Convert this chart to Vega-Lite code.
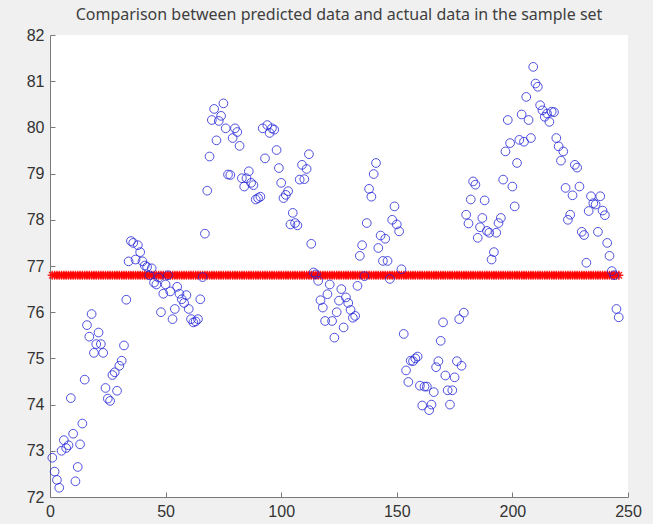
{
"$schema":"https://vega.github.io/schema/vega-lite/v6.json",
"width":578,"height":462,
"autosize":"none",
"padding":{"left":50,"top":35,"right":25,"bottom":27},
"background":"#f0f0f0",
"view":{"fill":"white","stroke":null},
"title":{"text":"Comparison between predicted data and actual data in the sample set","anchor":"middle","offset":4,"fontSize":16,"font":"Noto Sans","fontWeight":"normal","color":"#404040"},
"datasets":{"rows":[
{"i":1,"actual":72.85,"predicted":76.8},{"i":2,"actual":72.55,"predicted":76.8},{"i":3,"actual":72.37,"predicted":76.8},{"i":4,"actual":72.2,"predicted":76.8},{"i":5,"actual":73.0,"predicted":76.8},{"i":6,"actual":73.23,"predicted":76.8},{"i":7,"actual":73.06,"predicted":76.8},{"i":8,"actual":73.12,"predicted":76.8},{"i":9,"actual":74.14,"predicted":76.8},{"i":10,"actual":73.37,"predicted":76.8},
{"i":11,"actual":72.34,"predicted":76.8},{"i":12,"actual":72.65,"predicted":76.8},{"i":13,"actual":73.14,"predicted":76.8},{"i":14,"actual":73.59,"predicted":76.8},{"i":15,"actual":74.54,"predicted":76.8},{"i":16,"actual":75.72,"predicted":76.8},{"i":17,"actual":75.47,"predicted":76.8},{"i":18,"actual":75.96,"predicted":76.8},{"i":19,"actual":75.12,"predicted":76.8},{"i":20,"actual":75.31,"predicted":76.8},
{"i":21,"actual":75.56,"predicted":76.8},{"i":22,"actual":75.31,"predicted":76.8},{"i":23,"actual":75.12,"predicted":76.8},{"i":24,"actual":74.36,"predicted":76.8},{"i":25,"actual":74.13,"predicted":76.8},{"i":26,"actual":74.08,"predicted":76.8},{"i":27,"actual":74.64,"predicted":76.8},{"i":28,"actual":74.7,"predicted":76.8},{"i":29,"actual":74.3,"predicted":76.8},{"i":30,"actual":74.84,"predicted":76.8},
{"i":31,"actual":74.95,"predicted":76.8},{"i":32,"actual":75.28,"predicted":76.8},{"i":33,"actual":76.27,"predicted":76.8},{"i":34,"actual":77.1,"predicted":76.8},{"i":35,"actual":77.54,"predicted":76.8},{"i":36,"actual":77.5,"predicted":76.8},{"i":37,"actual":77.14,"predicted":76.8},{"i":38,"actual":77.45,"predicted":76.8},{"i":39,"actual":77.3,"predicted":76.8},{"i":40,"actual":77.1,"predicted":76.8},
{"i":41,"actual":77.01,"predicted":76.8},{"i":42,"actual":76.98,"predicted":76.8},{"i":43,"actual":76.8,"predicted":76.8},{"i":44,"actual":76.95,"predicted":76.8},{"i":45,"actual":76.64,"predicted":76.8},{"i":46,"actual":76.6,"predicted":76.8},{"i":47,"actual":76.75,"predicted":76.8},{"i":48,"actual":76.0,"predicted":76.8},{"i":49,"actual":76.4,"predicted":76.8},{"i":50,"actual":76.6,"predicted":76.8},
{"i":51,"actual":76.8,"predicted":76.8},{"i":52,"actual":76.45,"predicted":76.8},{"i":53,"actual":75.85,"predicted":76.8},{"i":54,"actual":76.07,"predicted":76.8},{"i":55,"actual":76.55,"predicted":76.8},{"i":56,"actual":76.4,"predicted":76.8},{"i":57,"actual":76.28,"predicted":76.8},{"i":58,"actual":76.2,"predicted":76.8},{"i":59,"actual":76.37,"predicted":76.8},{"i":60,"actual":76.07,"predicted":76.8},
{"i":61,"actual":75.85,"predicted":76.8},{"i":62,"actual":75.78,"predicted":76.8},{"i":63,"actual":75.8,"predicted":76.8},{"i":64,"actual":75.85,"predicted":76.8},{"i":65,"actual":76.28,"predicted":76.8},{"i":66,"actual":76.76,"predicted":76.8},{"i":67,"actual":77.7,"predicted":76.8},{"i":68,"actual":78.63,"predicted":76.8},{"i":69,"actual":79.37,"predicted":76.8},{"i":70,"actual":80.16,"predicted":76.8},
{"i":71,"actual":80.4,"predicted":76.8},{"i":72,"actual":79.72,"predicted":76.8},{"i":73,"actual":80.14,"predicted":76.8},{"i":74,"actual":80.25,"predicted":76.8},{"i":75,"actual":80.52,"predicted":76.8},{"i":76,"actual":79.98,"predicted":76.8},{"i":77,"actual":78.98,"predicted":76.8},{"i":78,"actual":78.97,"predicted":76.8},{"i":79,"actual":79.77,"predicted":76.8},{"i":80,"actual":79.98,"predicted":76.8},
{"i":81,"actual":79.9,"predicted":76.8},{"i":82,"actual":79.6,"predicted":76.8},{"i":83,"actual":78.9,"predicted":76.8},{"i":84,"actual":78.72,"predicted":76.8},{"i":85,"actual":78.9,"predicted":76.8},{"i":86,"actual":79.05,"predicted":76.8},{"i":87,"actual":78.8,"predicted":76.8},{"i":88,"actual":78.75,"predicted":76.8},{"i":89,"actual":78.44,"predicted":76.8},{"i":90,"actual":78.47,"predicted":76.8},
{"i":91,"actual":78.5,"predicted":76.8},{"i":92,"actual":79.98,"predicted":76.8},{"i":93,"actual":79.33,"predicted":76.8},{"i":94,"actual":80.05,"predicted":76.8},{"i":95,"actual":79.88,"predicted":76.8},{"i":96,"actual":79.98,"predicted":76.8},{"i":97,"actual":79.95,"predicted":76.8},{"i":98,"actual":79.51,"predicted":76.8},{"i":99,"actual":79.12,"predicted":76.8},{"i":100,"actual":78.8,"predicted":76.8},
{"i":101,"actual":78.47,"predicted":76.8},{"i":102,"actual":78.54,"predicted":76.8},{"i":103,"actual":78.62,"predicted":76.8},{"i":104,"actual":77.9,"predicted":76.8},{"i":105,"actual":78.15,"predicted":76.8},{"i":106,"actual":77.93,"predicted":76.8},{"i":107,"actual":77.88,"predicted":76.8},{"i":108,"actual":78.87,"predicted":76.8},{"i":109,"actual":79.19,"predicted":76.8},{"i":110,"actual":78.88,"predicted":76.8},
{"i":111,"actual":79.1,"predicted":76.8},{"i":112,"actual":79.42,"predicted":76.8},{"i":113,"actual":77.48,"predicted":76.8},{"i":114,"actual":76.86,"predicted":76.8},{"i":115,"actual":76.82,"predicted":76.8},{"i":116,"actual":76.68,"predicted":76.8},{"i":117,"actual":76.26,"predicted":76.8},{"i":118,"actual":76.1,"predicted":76.8},{"i":119,"actual":75.81,"predicted":76.8},{"i":120,"actual":76.39,"predicted":76.8},
{"i":121,"actual":76.6,"predicted":76.8},{"i":122,"actual":75.81,"predicted":76.8},{"i":123,"actual":75.45,"predicted":76.8},{"i":124,"actual":76.0,"predicted":76.8},{"i":125,"actual":76.25,"predicted":76.8},{"i":126,"actual":76.5,"predicted":76.8},{"i":127,"actual":75.67,"predicted":76.8},{"i":128,"actual":76.32,"predicted":76.8},{"i":129,"actual":76.2,"predicted":76.8},{"i":130,"actual":76.05,"predicted":76.8},
{"i":131,"actual":75.88,"predicted":76.8},{"i":132,"actual":75.92,"predicted":76.8},{"i":133,"actual":76.57,"predicted":76.8},{"i":134,"actual":77.22,"predicted":76.8},{"i":135,"actual":77.45,"predicted":76.8},{"i":136,"actual":76.78,"predicted":76.8},{"i":137,"actual":77.93,"predicted":76.8},{"i":138,"actual":78.67,"predicted":76.8},{"i":139,"actual":78.5,"predicted":76.8},{"i":140,"actual":78.99,"predicted":76.8},
{"i":141,"actual":79.23,"predicted":76.8},{"i":142,"actual":77.39,"predicted":76.8},{"i":143,"actual":77.66,"predicted":76.8},{"i":144,"actual":77.11,"predicted":76.8},{"i":145,"actual":77.59,"predicted":76.8},{"i":146,"actual":77.11,"predicted":76.8},{"i":147,"actual":76.72,"predicted":76.8},{"i":148,"actual":78.0,"predicted":76.8},{"i":149,"actual":78.29,"predicted":76.8},{"i":150,"actual":77.9,"predicted":76.8},
{"i":151,"actual":77.75,"predicted":76.8},{"i":152,"actual":76.93,"predicted":76.8},{"i":153,"actual":75.53,"predicted":76.8},{"i":154,"actual":74.74,"predicted":76.8},{"i":155,"actual":74.49,"predicted":76.8},{"i":156,"actual":74.95,"predicted":76.8},{"i":157,"actual":74.94,"predicted":76.8},{"i":158,"actual":75.0,"predicted":76.8},{"i":159,"actual":75.04,"predicted":76.8},{"i":160,"actual":74.41,"predicted":76.8},
{"i":161,"actual":73.98,"predicted":76.8},{"i":162,"actual":74.39,"predicted":76.8},{"i":163,"actual":74.39,"predicted":76.8},{"i":164,"actual":73.88,"predicted":76.8},{"i":165,"actual":74.0,"predicted":76.8},{"i":166,"actual":74.27,"predicted":76.8},{"i":167,"actual":74.81,"predicted":76.8},{"i":168,"actual":74.94,"predicted":76.8},{"i":169,"actual":75.38,"predicted":76.8},{"i":170,"actual":75.78,"predicted":76.8},
{"i":171,"actual":74.63,"predicted":76.8},{"i":172,"actual":74.31,"predicted":76.8},{"i":173,"actual":74.0,"predicted":76.8},{"i":174,"actual":74.31,"predicted":76.8},{"i":175,"actual":74.59,"predicted":76.8},{"i":176,"actual":74.94,"predicted":76.8},{"i":177,"actual":75.85,"predicted":76.8},{"i":178,"actual":74.84,"predicted":76.8},{"i":179,"actual":75.99,"predicted":76.8},{"i":180,"actual":78.11,"predicted":76.8},
{"i":181,"actual":77.92,"predicted":76.8},{"i":182,"actual":78.44,"predicted":76.8},{"i":183,"actual":78.83,"predicted":76.8},{"i":184,"actual":78.76,"predicted":76.8},{"i":185,"actual":77.61,"predicted":76.8},{"i":186,"actual":77.84,"predicted":76.8},{"i":187,"actual":78.04,"predicted":76.8},{"i":188,"actual":78.42,"predicted":76.8},{"i":189,"actual":77.76,"predicted":76.8},{"i":190,"actual":77.72,"predicted":76.8},
{"i":191,"actual":77.14,"predicted":76.8},{"i":192,"actual":77.3,"predicted":76.8},{"i":193,"actual":77.72,"predicted":76.8},{"i":194,"actual":77.93,"predicted":76.8},{"i":195,"actual":78.04,"predicted":76.8},{"i":196,"actual":78.87,"predicted":76.8},{"i":197,"actual":79.48,"predicted":76.8},{"i":198,"actual":80.16,"predicted":76.8},{"i":199,"actual":79.66,"predicted":76.8},{"i":200,"actual":78.72,"predicted":76.8},
{"i":201,"actual":78.29,"predicted":76.8},{"i":202,"actual":79.23,"predicted":76.8},{"i":203,"actual":79.73,"predicted":76.8},{"i":204,"actual":80.28,"predicted":76.8},{"i":205,"actual":79.69,"predicted":76.8},{"i":206,"actual":80.66,"predicted":76.8},{"i":207,"actual":80.16,"predicted":76.8},{"i":208,"actual":79.77,"predicted":76.8},{"i":209,"actual":81.31,"predicted":76.8},{"i":210,"actual":80.95,"predicted":76.8},
{"i":211,"actual":80.88,"predicted":76.8},{"i":212,"actual":80.48,"predicted":76.8},{"i":213,"actual":80.37,"predicted":76.8},{"i":214,"actual":80.23,"predicted":76.8},{"i":215,"actual":80.3,"predicted":76.8},{"i":216,"actual":80.12,"predicted":76.8},{"i":217,"actual":80.34,"predicted":76.8},{"i":218,"actual":80.33,"predicted":76.8},{"i":219,"actual":79.77,"predicted":76.8},{"i":220,"actual":79.59,"predicted":76.8},
{"i":221,"actual":79.28,"predicted":76.8},{"i":222,"actual":79.48,"predicted":76.8},{"i":223,"actual":78.69,"predicted":76.8},{"i":224,"actual":78.0,"predicted":76.8},{"i":225,"actual":78.11,"predicted":76.8},{"i":226,"actual":78.53,"predicted":76.8},{"i":227,"actual":79.19,"predicted":76.8},{"i":228,"actual":79.13,"predicted":76.8},{"i":229,"actual":78.72,"predicted":76.8},{"i":230,"actual":77.74,"predicted":76.8},
{"i":231,"actual":77.67,"predicted":76.8},{"i":232,"actual":77.07,"predicted":76.8},{"i":233,"actual":78.19,"predicted":76.8},{"i":234,"actual":78.51,"predicted":76.8},{"i":235,"actual":78.36,"predicted":76.8},{"i":236,"actual":78.33,"predicted":76.8},{"i":237,"actual":77.74,"predicted":76.8},{"i":238,"actual":78.51,"predicted":76.8},{"i":239,"actual":78.2,"predicted":76.8},{"i":240,"actual":78.1,"predicted":76.8},
{"i":241,"actual":77.5,"predicted":76.8},{"i":242,"actual":77.22,"predicted":76.8},{"i":243,"actual":76.89,"predicted":76.8},{"i":244,"actual":76.8,"predicted":76.8},{"i":245,"actual":76.07,"predicted":76.8},{"i":246,"actual":75.89,"predicted":76.8}
]},
"data":{"name":"rows"},
"encoding":{
"x":{"field":"i","type":"quantitative","scale":{"domain":[0,250],"nice":false,"zero":false},
"axis":{"title":null,"values":[0,50,100,150,200,250],"grid":false,"tickSize":-5,"labelPadding":11,"domainColor":"#7a7a7a","tickColor":"#7a7a7a","labelColor":"#333333","labelFont":"Liberation Sans","labelFontSize":16,"labelFlush":false}}
},
"layer":[
{"mark":{"type":"point","shape":"M-1,0L1,0M0,-1L0,1M-0.7,-0.7L0.7,0.7M-0.7,0.7L0.7,-0.7","filled":false,"size":85,"color":"#ff0000","strokeWidth":1.4,"opacity":0.85},
"encoding":{"y":{"field":"predicted","type":"quantitative","scale":{"domain":[72,82],"nice":false,"zero":false},
"axis":{"title":null,"values":[72,73,74,75,76,77,78,79,80,81,82],"grid":false,"tickSize":-5,"labelPadding":11,"domainColor":"#7a7a7a","tickColor":"#7a7a7a","labelColor":"#333333","labelFont":"Liberation Sans","labelFontSize":16,"labelFlush":false}}}},
{"mark":{"type":"point","shape":"circle","filled":false,"size":76,"color":"#2424d8","strokeWidth":1,"opacity":0.8},
"encoding":{"y":{"field":"actual","type":"quantitative"}}}
]
}
